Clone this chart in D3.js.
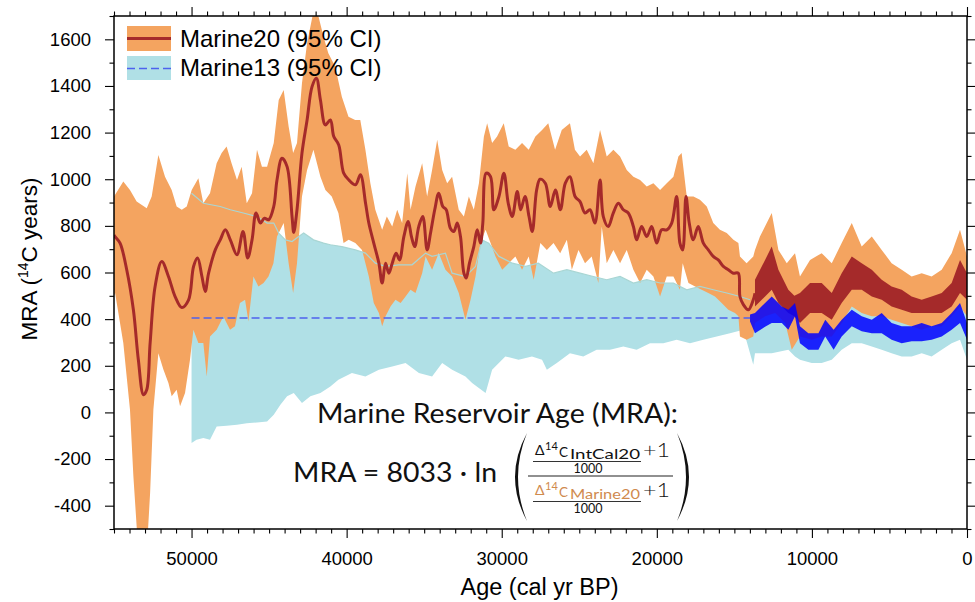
<!DOCTYPE html>
<html>
<head>
<meta charset="utf-8">
<script src="https://cdn.jsdelivr.net/npm/d3@7"></script>
<style>
  body { margin: 0; background: #fff; }
  text { font-family: "Liberation Sans", Arial, Helvetica, sans-serif; }
  .eq { font-family: Lato, "DejaVu Sans", sans-serif; }
</style>
</head>
<body>
<div id="chart"></div>
<script>
// Marine20 mean MRA, [age cal yr BP, 14C yr] (smooth part, older than ~13.7 ka)
const m20Mean = [
  [55000,760],[54930,754],[54610,726],[54180,612],[53750,440],[53430,226],[53100,76],[52890,97],
  [52670,298],[52350,540],[51920,647],[51490,583],[51060,497],[50630,450],[50190,483],[49870,626],
  [49610,662],[49330,583],[49120,519],[48900,597],[48470,697],[48150,740],[47820,783],[47500,740],
  [47070,676],[46680,776],[46380,662],[46100,740],[45840,855],[45560,812],[45300,833],[45030,826],
  [44700,883],[44490,997],[44170,1090],[43840,1054],[43520,840],[43410,772],[43200,869],[42880,1112],
  [42550,1254],[42230,1397],[41950,1433],[41690,1340],[41370,1233],[41050,1254],[40830,1183],[40510,1147],
  [40190,1026],[39860,997],[39430,976],[39110,1019],[38780,897],[38570,812],[38250,726],[37920,640],
  [37710,555],[37490,640],[37280,597],[37060,640],[36810,683],[36590,654],[36310,754],[36030,819],
  [35820,754],[35610,711],[35350,797],[35090,840],[34810,697],[34590,769],[34320,869],[34060,940],
  [33800,883],[33580,869],[33310,790],[33090,776],[32870,812],[32660,754],[32440,597],[32290,576],
  [32080,640],[31800,711],[31580,783],[31370,726],[31220,812],[31000,1026],[30720,1011],[30510,869],
  [30180,926],[29860,1026],[29580,897],[29320,840],[29000,947],[28780,869],[28500,926],[28240,840],
  [28030,776],[27750,954],[27530,1000],[27190,983],[26870,883],[26540,954],[26220,869],[25900,983],
  [25600,1011],[25270,926],[24950,904],[24630,855],[24310,869],[23990,812],[23660,997],[23450,840],
  [23130,797],[22810,855],[22480,897],[22160,869],[21840,855],[21510,797],[21300,740],[20980,797],
  [20650,754],[20330,797],[20010,726],[19690,783],[19360,783],[19040,812],[18720,926],[18510,726],
  [18330,697],[18120,926],[17910,812],[17650,740],[17330,797],[17000,726],[16680,697],[16360,669],
  [16040,654],[15710,626],[15390,612],[15070,597],[14750,597],[14640,497],[14420,462],[14100,440],
  [13780,483],[13670,511]
];

// Marine20 mean, Holocene/late glacial part: it wiggles so fast it reads as a band
const m20WiggleHi = [
  [13670,569],[13020,654],[12590,711],[12160,612],[11520,526],[11130,500],[10770,512],[10120,555],
  [9370,555],[8720,512],[8080,597],[7430,669],[6790,640],[6140,612],[5500,569],[4860,540],
  [4210,526],[3570,497],[2920,483],[2280,497],[1630,512],[990,555],[450,654],[0,597]
];
const m20WiggleLo = [
  [13670,454],[13020,497],[12590,526],[12160,469],[11520,426],[11130,412],[10770,383],[10120,426],
  [9370,426],[8720,397],[8080,469],[7430,526],[6790,526],[6140,497],[5500,483],[4860,454],
  [4210,440],[3570,426],[2920,426],[2280,426],[1630,426],[990,454],[450,512],[0,483]
];

// Marine20 95% interval
const m20Upper = [
  [55000,926],[54400,990],[53970,954],[53540,904],[52890,876],[52570,926],[52140,1104],[51710,1011],
  [51280,954],[50960,883],[50630,869],[50310,883],[49990,954],[49560,1004],[49240,897],[48810,940],
  [48380,1069],[48060,1112],[47740,1140],[47420,1069],[47070,997],[46770,1054],[46440,897],[46100,940],
  [45780,1126],[45460,1054],[45130,1054],[44700,1155],[44380,1340],[44060,1383],[43740,1226],[43450,1112],
  [43200,1155],[42880,1412],[42550,1583],[42140,1720],[41810,1697],[41490,1611],[41180,1540],[40740,1483],
  [40310,1354],[39880,1268],[39450,1254],[39120,1254],[38790,1126],[38470,983],[38150,869],[37710,783],
  [37410,840],[37060,797],[36740,869],[36420,812],[36090,1026],[35880,869],[35560,969],[35130,1069],
  [34810,926],[34490,1040],[34160,1169],[33840,1040],[33520,983],[33200,1011],[32770,869],[32440,840],
  [32120,926],[31800,869],[31470,983],[31150,1183],[30940,1240],[30620,1155],[30300,1183],[29870,1240],
  [29550,1140],[29120,1126],[28690,1155],[28260,1126],[27830,1183],[27400,1211],[27000,1240],[26560,1126],
  [26130,1211],[25600,1240],[25280,1126],[24950,1097],[24520,1126],[24090,1069],[23660,1211],[23230,1097],
  [22800,1126],[22370,1097],[21940,1040],[21510,1011],[21080,997],[20650,969],[20220,983],[19790,954],
  [19360,983],[18930,1011],[18610,1097],[18400,1112],[18070,926],[17640,926],[17220,912],[16780,883],
  [16360,812],[15930,783],[15490,769],[15060,740],[14740,726],[14640,669],[14210,640],[13780,669],
  [13670,697],[13350,754],[12590,855],[12160,697],[11620,640],[11090,683],[10770,583],[10120,654],
  [9370,683],[8720,640],[8080,726],[7430,812],[6790,711],[6140,754],[5500,697],[4860,640],
  [4210,612],[3570,583],[2920,597],[2280,583],[1630,612],[990,683],[450,783],[0,669]
];
const m20Lower = [
  [55000,500],[54930,512],[54400,298],[53970,12],[53750,-274],[53430,-600],[52890,-600],[52670,-344],
  [52460,12],[52140,254],[51810,183],[51490,126],[51280,69],[50960,97],[50740,26],[50420,83],
  [50100,226],[49880,354],[49560,298],[49240,298],[49020,154],[48810,326],[48380,354],[47950,411],
  [47520,354],[47200,369],[46880,469],[46550,483],[46330,390],[46010,583],[45690,540],[45360,555],
  [45040,583],[44720,640],[44490,754],[44060,812],[43740,640],[43450,512],[43200,640],[42880,926],
  [42550,1040],[42140,1126],[41690,1011],[41370,954],[40960,926],[40530,855],[40200,726],[39870,740],
  [39440,726],[39010,697],[38570,583],[38250,469],[37920,426],[37710,369],[37490,412],[37170,454],
  [36850,483],[36520,469],[36200,497],[35880,526],[35560,512],[35130,597],[34910,669],[34490,612],
  [34060,683],[33630,612],[33200,583],[32770,512],[32340,397],[32010,483],[31690,583],[31370,726],
  [31040,783],[30720,726],[30400,669],[29970,612],[29550,640],[29120,669],[28690,612],[28260,669],
  [27940,569],[27510,726],[27090,697],[26660,726],[26230,683],[25800,740],[25480,612],[25050,697],
  [24630,640],[24200,669],[23770,555],[23550,797],[23230,640],[22800,697],[22370,640],[21940,697],
  [21510,612],[21080,555],[20650,612],[20220,583],[19790,497],[19360,583],[18930,583],[18510,526],
  [18330,640],[17960,555],[17530,540],[17110,526],[16680,512],[16250,497],[15820,469],[15390,440],
  [14960,426],[14740,412],[14640,326],[14210,312],[13780,326],[13670,383],[13020,412],[12370,426],
  [11720,383],[11300,269],[10770,326],[10010,312],[9370,326],[8720,326],[8080,383],[7430,454],
  [6790,426],[6140,412],[5500,412],[4860,397],[4210,383],[3570,369],[2920,354],[2280,369],
  [1630,369],[990,412],[450,454],[0,412]
];

// Marine13 95% interval
const m13Upper = [
  [50000,940],[49240,897],[48150,883],[47500,869],[46660,855],[45780,840],[45130,812],[44700,812],
  [44380,769],[43950,740],[43520,733],[43090,754],[42770,769],[42140,740],[41490,726],[41050,719],
  [40310,711],[39440,697],[38790,683],[38150,640],[37490,626],[36640,633],[35780,633],[34910,683],
  [34490,669],[33630,683],[33200,597],[32340,583],[31690,626],[31270,740],[30840,726],[30180,669],
  [29320,640],[28460,626],[27640,640],[26660,597],[25800,612],[24950,597],[24090,583],[23230,569],
  [22370,583],[21510,555],[20650,569],[19790,555],[18930,555],[18070,526],[17220,540],[16360,526],
  [15490,512],[14640,497],[13990,483],[13670,512],[12590,540],[11520,483],[11090,520],[10770,426],
  [10010,397],[9370,412],[8720,397],[8080,440],[7430,497],[6790,454],[6140,454],[5500,483],
  [4860,440],[4210,426],[3570,426],[2920,440],[2280,426],[1630,440],[990,497],[450,526],[0,469]
];
const m13Lower = [
  [50000,-131],[49680,-117],[49240,-110],[48810,-117],[48380,-60],[47740,-57],[47070,-53],[46440,-46],
  [45780,-43],[45130,-39],[44700,-10],[44270,33],[43840,69],[43410,83],[42880,40],[42340,69],
  [41690,83],[41050,111],[40530,140],[39660,169],[38790,154],[37920,183],[37060,197],[36200,212],
  [35340,169],[34490,154],[33840,212],[33200,183],[32340,154],[31910,126],[31040,83],[30620,183],
  [29770,240],[28910,226],[28050,240],[27400,226],[27090,183],[26450,212],[25600,254],[24740,240],
  [23880,269],[23020,269],[22160,283],[21300,269],[20440,297],[19580,297],[18720,312],[17860,297],
  [17000,312],[16140,326],[15280,340],[14420,354],[13780,204],[13670,254],[12590,254],[11520,269],
  [11090,240],[10770,226],[10010,212],[9370,212],[8720,226],[8080,269],[7430,297],[6790,297],
  [6140,283],[5500,269],[4860,254],[4210,240],[3570,240],[2920,254],[2280,240],[1630,269],
  [990,297],[450,312],[0,226]
];

// Marine13 mean: constant offset before 13.9 ka, then a fast-wiggling band
const m13Flat = [[50000,405],[13990,405]];
const m13WiggleHi = [
  [13990,420],[13670,426],[13020,469],[12590,497],[11940,454],[11520,440],[11090,469],[10770,369],
  [10230,340],[9580,340],[9140,397],[8600,354],[8080,397],[7430,440],[6790,412],[6140,397],
  [5500,426],[4860,383],[4210,369],[3570,369],[2920,383],[2280,369],[1630,383],[990,426],[450,469],[0,383]
];
const m13WiggleLo = [
  [13990,390],[13670,340],[13020,367],[12590,383],[11940,383],[11520,354],[11090,412],[10770,297],
  [10230,269],[9580,269],[9140,326],[8600,269],[8080,326],[7430,369],[6790,348],[6140,340],
  [5500,340],[4860,312],[4210,297],[3570,305],[2920,305],[2280,312],[1630,326],[990,354],[450,383],[0,312]
];

const xTicks = [50000, 40000, 30000, 20000, 10000, 0];
const yTicks = [-400, -200, 0, 200, 400, 600, 800, 1000, 1200, 1400, 1600];
const legendLabels = ['Marine20 (95% CI)', 'Marine13 (95% CI)'];

const width = 975, height = 602;
const plotL = 114, plotR = 967, plotT = 16, plotB = 529;

const orange = '#f4a460';
const cyan = '#b0e0e6';
const brown = '#a52a2a';
const dashBlue = '#4d62ee';

const svg = d3.select('#chart').append('svg')
    .attr('width', width)
    .attr('height', height);

const x = d3.scaleLinear().domain([55000, 0]).range([plotL, plotR]);
const y = d3.scaleLinear().domain([-500, 1700]).range([plotB, plotT]);

svg.append('clipPath').attr('id', 'plot-clip')
  .append('rect')
    .attr('x', plotL).attr('y', plotT)
    .attr('width', plotR - plotL).attr('height', plotB - plotT);

const plot = svg.append('g').attr('clip-path', 'url(#plot-clip)');

const line = d3.line().x(d => x(d[0])).y(d => y(d[1]));
const smooth = d3.line().x(d => x(d[0])).y(d => y(d[1])).curve(d3.curveCatmullRom.alpha(0.5));

// closed polygon: upper edge one way, lower edge back
function band(upper, lower) {
    return line(upper.concat(lower.slice().reverse())) + 'Z';
}

plot.append('path').attr('d', band(m13Upper, m13Lower)).attr('fill', cyan);
plot.append('path').attr('d', band(m20Upper, m20Lower)).attr('fill', orange);

// Marine13 upper edge shows through as a faint line over the orange
plot.append('path')
    .attr('d', line(m13Upper.filter(d => d[0] >= 13990)))
    .attr('fill', 'none')
    .attr('stroke', '#a9d6d4')
    .attr('stroke-width', 1.2);

plot.append('path')
    .attr('d', line(m13Flat))
    .attr('fill', 'none')
    .attr('stroke', dashBlue)
    .attr('stroke-width', 1.6)
    .attr('stroke-dasharray', '8,4');

plot.append('path')
    .attr('d', smooth(m20Mean))
    .attr('fill', 'none')
    .attr('stroke', brown)
    .attr('stroke-width', 3);

plot.append('path').attr('d', band(m20WiggleHi, m20WiggleLo)).attr('fill', brown);
plot.append('path').attr('d', band(m13WiggleHi, m13WiggleLo))
    .attr('fill', '#0000ff').attr('fill-opacity', 0.85);

// axes: major + minor ticks, all pointing out, labels only bottom/left
const fmt = d => String(d);
const xMinor = d3.range(0, 55001, 1000).filter(v => v % 10000 !== 0);
const yMinor = d3.range(-500, 1701, 100).filter(v => v % 200 !== 0);

function addAxis(axisFn, scale, major, minor, pos, labels) {
    const g = svg.append('g').attr('transform', pos);
    g.call(axisFn(scale).tickValues(major).tickSizeInner(9).tickSizeOuter(0)
        .tickPadding(14).tickFormat(labels ? fmt : ''));
    g.select('.domain').remove();
    const gm = svg.append('g').attr('transform', pos);
    gm.call(axisFn(scale).tickValues(minor).tickSizeInner(4.5).tickSizeOuter(0).tickFormat(''));
    gm.select('.domain').remove();
    svg.selectAll('.tick line').attr('stroke', '#000').attr('stroke-width', 1.1);
    g.selectAll('text').attr('font-size', '18.5px').attr('fill', '#000')
        .attr('font-family', '"Liberation Sans", Arial, sans-serif');
}

addAxis(d3.axisBottom, x, xTicks, xMinor, `translate(0,${plotB})`, true);
addAxis(d3.axisTop, x, xTicks, xMinor, `translate(0,${plotT})`, false);
addAxis(d3.axisLeft, y, yTicks, yMinor, `translate(${plotL},0)`, true);
addAxis(d3.axisRight, y, yTicks, yMinor, `translate(${plotR},0)`, false);

svg.append('rect')
    .attr('x', plotL).attr('y', plotT)
    .attr('width', plotR - plotL).attr('height', plotB - plotT)
    .attr('fill', 'none')
    .attr('stroke', '#000')
    .attr('stroke-width', 1.5);

// axis titles
svg.append('text')
    .attr('x', (plotL + plotR) / 2 - 1)
    .attr('y', 595)
    .attr('text-anchor', 'middle')
    .attr('font-size', '23.5px')
    .text('Age (cal yr BP)');

const yTitle = svg.append('text')
    .attr('transform', 'translate(37,259) rotate(-90)')
    .attr('text-anchor', 'middle')
    .attr('font-size', '22.5px');
yTitle.append('tspan').text('MRA (');
yTitle.append('tspan').attr('font-size', '14px').attr('dy', -9).text('14');
yTitle.append('tspan').attr('dy', 9).text('C years)');

// legend
const leg = svg.append('g');
leg.append('rect').attr('x', 127).attr('y', 26).attr('width', 44).attr('height', 25).attr('fill', orange);
leg.append('line').attr('x1', 127).attr('x2', 171).attr('y1', 38.5).attr('y2', 38.5)
    .attr('stroke', brown).attr('stroke-width', 3);
leg.append('rect').attr('x', 127).attr('y', 56).attr('width', 44).attr('height', 24).attr('fill', cyan);
leg.append('line').attr('x1', 127).attr('x2', 171).attr('y1', 68.5).attr('y2', 68.5)
    .attr('stroke', dashBlue).attr('stroke-width', 1.6).attr('stroke-dasharray', '8,4');
leg.selectAll('text.lab')
    .data(legendLabels)
    .enter()
    .append('text')
      .attr('class', 'lab')
      .attr('x', 180)
      .attr('y', (d, i) => 46.5 + i * 29.5)
      .attr('font-size', '24px')
      .text(d => d);

// MRA formula
const eq = svg.append('g').attr('fill', '#111');
eq.append('text').attr('class', 'eq')
    .attr('x', 317).attr('y', 423)
    .attr('font-size', '26px')
    .attr('textLength', 361).attr('lengthAdjust', 'spacingAndGlyphs')
    .text('Marine Reservoir Age (MRA):');
eq.append('text').attr('class', 'eq')
    .attr('x', 293).attr('y', 482)
    .attr('font-size', '27px')
    .attr('textLength', 204).attr('lengthAdjust', 'spacingAndGlyphs')
    .text('MRA = 8033 · ln');

eq.append('path').attr('d', 'M527,433 Q503,477 527,521 Q509,477 527,433 Z');
eq.append('path').attr('d', 'M677,433 Q701,477 677,521 Q695,477 677,433 Z');
eq.append('line').attr('x1', 528).attr('x2', 673).attr('y1', 476).attr('y2', 476)
    .attr('stroke', '#222').attr('stroke-width', 1.2);

function delta(g, baseY, sub, color) {
    const t = g.append('text').attr('class', 'eq').attr('fill', color);
    t.append('tspan').attr('x', 535).attr('y', baseY).attr('font-size', '14px').text('Δ');
    t.append('tspan').attr('x', 545).attr('y', baseY - 5).attr('font-size', '11px').text('14');
    t.append('tspan').attr('x', 559).attr('y', baseY + 2).attr('font-size', '13.5px').text('C');
    g.append('text').attr('class', 'eq').attr('fill', color)
        .attr('x', 570).attr('y', baseY + 4).attr('font-size', '13.5px')
        .attr('textLength', 70).attr('lengthAdjust', 'spacingAndGlyphs')
        .text(sub);
    g.append('line').attr('x1', 533).attr('x2', 641).attr('y1', baseY + 6.5).attr('y2', baseY + 6.5)
        .attr('stroke', '#333').attr('stroke-width', 1);
    g.append('text').attr('class', 'eq')
        .attr('x', 588).attr('y', baseY + 18).attr('text-anchor', 'middle')
        .attr('font-size', '12.5px').text('1000');
    g.append('text').attr('class', 'eq').attr('font-weight', 300)
        .attr('x', 643).attr('y', baseY + 2).attr('font-size', '19px')
        .attr('textLength', 27).attr('lengthAdjust', 'spacingAndGlyphs')
        .text('+1');
}
delta(eq, 455, 'IntCal20', '#111');
delta(eq, 495, 'Marine20', '#d08a4e');
</script>
</body>
</html>
